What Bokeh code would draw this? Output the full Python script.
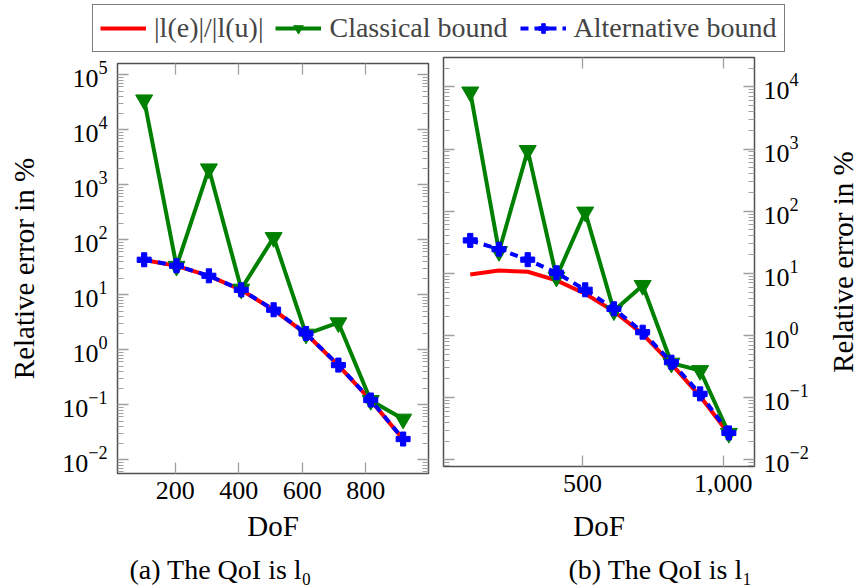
import math
from bokeh.plotting import figure
from bokeh.models import (LogAxis, LinearAxis, FixedTicker, CustomJSTickFormatter,
                          NumeralTickFormatter, Title, Legend, LegendItem, Range1d)
from bokeh.layouts import column, row
from bokeh.embed import file_html
from bokeh.resources import INLINE

# ---- data ----
dof_a = [102, 204, 306, 408, 510, 612, 714, 816, 918]
ratio_a = [43.0, 33.5, 22.0, 12.2, 5.3, 1.95, 0.52, 0.12, 0.0235]
classical_a = [35000, 33.0, 1950, 12.7, 110, 1.93, 3.1, 0.12, 0.055]
alternative_a = [43.3, 33.7, 22.1, 12.3, 5.34, 1.98, 0.526, 0.122, 0.0238]

dof_b = [102, 204, 306, 408, 510, 612, 714, 816, 918, 1020]
ratio_b = [9.6, 11.1, 10.6, 7.7, 4.7, 2.45, 1.05, 0.35, 0.105, 0.026]
classical_b = [8300, 22.5, 950, 8.7, 97, 2.5, 6.4, 0.36, 0.273, 0.0267]
alternative_b = [33.9, 24.5, 16.6, 10.2, 5.44, 2.69, 1.13, 0.372, 0.115, 0.0271]

xticks_a = [200, 400, 600, 800]
xticks_b = [500, 1000]
yticks_a = [10.0 ** e for e in range(-2, 6)]
yticks_b = [10.0 ** e for e in range(-2, 5)]
yminor = [m * 10.0 ** e for e in range(-3, 6) for m in range(2, 10)]

labels = ["|l(e)|/|l(u)|", "Classical bound", "Alternative bound"]
captions = ["(a) The QoI is l\u2080", "(b) The QoI is l\u2081"]
ylabel = "Relative error in %"
xlabel = "DoF"

FONT = "Liberation Serif"
RED = "#ff0000"
GREEN = "#008000"
BLUE = "#0000ff"
TICK = "#a0a0a0"
FRAME = "#505050"
FW = 311


def style_axis(ax, labels_on=True):
    ax.major_tick_in = 11
    ax.major_tick_out = 0
    ax.minor_tick_in = 6
    ax.minor_tick_out = 0
    ax.major_tick_line_color = TICK
    ax.minor_tick_line_color = TICK
    ax.major_tick_line_width = 1.3
    ax.minor_tick_line_width = 1.1
    ax.axis_line_color = None
    ax.major_label_text_font = FONT
    ax.major_label_text_color = "black"
    ax.axis_label_text_font = FONT
    ax.axis_label_text_font_style = "normal"
    ax.axis_label_text_color = "black"
    ax.axis_label_text_font_size = "29px"
    if labels_on:
        ax.major_label_text_font_size = "26px"
    else:
        ax.major_label_text_font_size = "0px"
        ax.major_label_standoff = 0
        ax.formatter = CustomJSTickFormatter(code="return ''")


def make_panel(dof, ratio, classical, alternative, xr, yr, xt, yt, side,
               mb_left, mb_right, mb_top, mb_bottom, frame_h, caption, cap_offset,
               x_standoff, xlab_standoff, y_standoff, ylab_standoff, cap_standoff):
    p = figure(x_axis_type="linear", y_axis_type="log",
               x_range=Range1d(*xr), y_range=Range1d(*yr),
               frame_width=FW, frame_height=frame_h,
               min_border_left=mb_left, min_border_right=mb_right,
               min_border_top=mb_top, min_border_bottom=mb_bottom,
               y_axis_location=side,
               toolbar_location=None, output_backend="svg")
    p.grid.visible = False
    p.outline_line_color = FRAME
    p.outline_line_width = 1.5
    p.background_fill_color = "white"
    p.border_fill_color = None

    yticker = FixedTicker(ticks=yt, minor_ticks=yminor)
    xticker = FixedTicker(ticks=xt, minor_ticks=[])

    xa = p.xaxis[0]
    xa.ticker = xticker
    style_axis(xa)
    xa.minor_tick_line_color = None
    xa.axis_label = xlabel
    xa.major_label_standoff = x_standoff
    xa.axis_label_standoff = xlab_standoff
    if max(xt) >= 1000:
        xa.formatter = NumeralTickFormatter(format="0,0")

    ya = p.yaxis[0]
    ya.ticker = yticker
    style_axis(ya)
    ya.major_label_standoff = y_standoff
    if side == "left":
        ya.axis_label = ylabel
        ya.axis_label_standoff = ylab_standoff

    xa2 = LinearAxis(ticker=xticker)
    style_axis(xa2, labels_on=False)
    xa2.minor_tick_line_color = None
    p.add_layout(xa2, "above")

    ya2 = LogAxis(ticker=yticker)
    style_axis(ya2, labels_on=False)
    p.add_layout(ya2, "left" if side == "right" else "right")

    p.line(dof, ratio, line_color=RED, line_width=4)
    p.line(dof, classical, line_color=GREEN, line_width=4)
    p.scatter(dof, classical, marker="inverted_triangle", size=17,
              fill_color=GREEN, line_color=GREEN)
    p.line(dof, alternative, line_color=BLUE, line_width=4, line_dash="8 6")
    p.scatter(dof, alternative, marker="plus", size=14,
              fill_color=BLUE, line_color=BLUE)

    t = Title(text=caption, align="left", offset=cap_offset, text_font=FONT,
              text_font_size="28px", text_font_style="normal", text_color="black",
              standoff=cap_standoff)
    p.add_layout(t, "below")
    return p


pa = make_panel(dof_a, ratio_a, classical_a, alternative_a,
                (18, 998), (10 ** -2.25, 10 ** 5.205), xticks_a, yticks_a, "left",
                117, 10, 8, 113, 410, captions[0], 12, 8, 8, 10, 19, 14)
pb = make_panel(dof_b, ratio_b, classical_b, alternative_b,
                (7, 1111), (10 ** -2.108, 10 ** 4.473), xticks_b, yticks_b, "right",
                5, 70, 8, 118, 409, captions[1], 125, 8, 15, 9, 0, 14)
pb.margin = (-6, 0, 0, 0)

# right-hand y-axis title of panel (b): a slim strip whose left title reads bottom-to-top
pl = figure(frame_width=1, frame_height=409, min_border_left=0, min_border_right=0,
            min_border_top=8, min_border_bottom=118, x_axis_type=None, y_axis_type=None,
            toolbar_location=None, output_backend="svg", outline_line_color=None,
            background_fill_color=None, border_fill_color=None)
pl.grid.visible = False
pl.add_layout(Title(text=ylabel, align="center", text_font=FONT, text_font_size="29px",
                    text_font_style="normal", text_color="black", standoff=0), "left")
pl.margin = (-6, 0, 0, 0)

# ---- legend strip: legend renderers use the panel (a) data, kept outside the visible range ----
lf = figure(width=860, height=55, x_axis_type=None, y_axis_type=None,
            x_range=Range1d(5000, 6000), y_range=Range1d(5000, 6000),
            toolbar_location=None, output_backend="svg", min_border=0,
            outline_line_color=None)
lf.grid.visible = False
r_red = lf.line(dof_a, ratio_a, line_color=RED, line_width=4)
r_gl = lf.line(dof_a, classical_a, line_color=GREEN, line_width=4)
r_gm = lf.scatter(dof_a, classical_a, marker="inverted_triangle", size=17,
                  fill_color=GREEN, line_color=GREEN)
r_bl = lf.line(dof_a, alternative_a, line_color=BLUE, line_width=4, line_dash="8 6")
r_bm = lf.scatter(dof_a, alternative_a, marker="plus", size=14,
                  fill_color=BLUE, line_color=BLUE)
leg = Legend(items=[LegendItem(label=labels[0], renderers=[r_red]),
                    LegendItem(label=labels[1], renderers=[r_gl, r_gm]),
                    LegendItem(label=labels[2], renderers=[r_bl, r_bm])],
             orientation="horizontal", location=(92, 3),
             border_line_color="black", border_line_width=1.3,
             label_text_font=FONT, label_text_font_size="28px",
             glyph_width=46, glyph_height=24, label_height=28,
             padding=7, spacing=12, margin=0, label_standoff=8,
             background_fill_alpha=1)
lf.add_layout(leg, "center")

layout = column(lf, row(pa, pb, pl))
open("out.html", "w").write(file_html(layout, INLINE))
